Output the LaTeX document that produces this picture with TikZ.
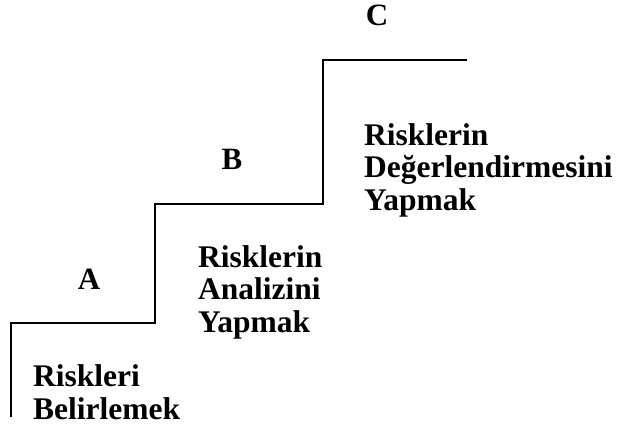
\documentclass[tikz,border=0pt]{standalone}
\usepackage{fontspec}
\setmainfont{Liberation Serif}
\begin{document}
\begin{tikzpicture}[x=1pt, y=-1pt,
    step label/.style={font=\fontsize{31}{32.5}\selectfont\bfseries, inner sep=0pt, anchor=base},
    step text/.style={font=\fontsize{31.5}{32.5}\selectfont\bfseries, inner sep=0pt, anchor=base west, align=left}]
        \useasboundingbox (0,0) rectangle (620,434);

        \coordinate (s0) at (11,417);
        \coordinate (s1) at (11,323);
        \coordinate (s2) at (155,323);
        \coordinate (s3) at (155,204);
        \coordinate (s4) at (323,204);
        \coordinate (s5) at (323,60);
        \coordinate (s6) at (467,60);

        \draw[line width=1.8pt] (s0) -- (s1) -- (s2) -- (s3) -- (s4) -- (s5) -- (s6);

        \node[step label] (A) at (89,289) {A};
        \node[step label] (B) at (232,169) {B};
        \node[step label] (C) at (377,25) {C};

        % base anchor sits on the last line
        \node[step text] (belirle) at (33,419) {Riskleri\\Belirlemek};
        \node[step text] (analiz) at (198,332) {Risklerin\\Analizini\\Yapmak};
        \node[step text] (degerlendir) at (364,210) {Risklerin\\Değerlendirmesini\\Yapmak};
      \end{tikzpicture}
\end{document}
